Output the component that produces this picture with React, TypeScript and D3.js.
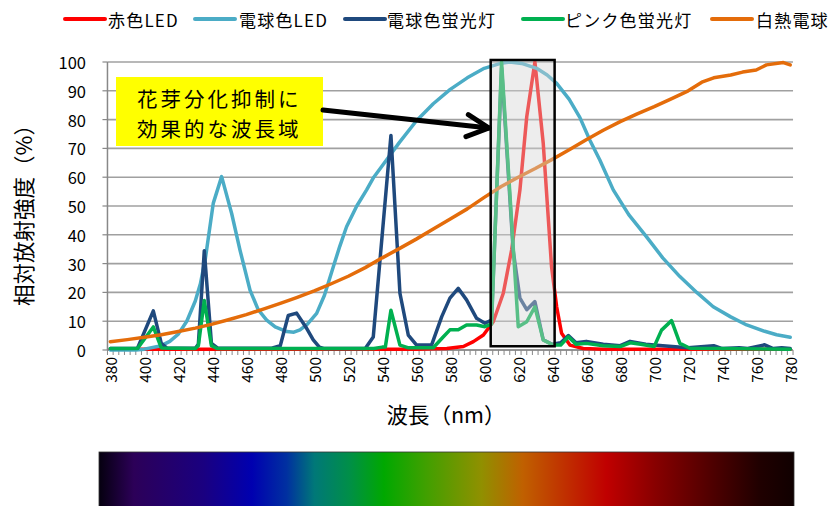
import React from "react";
import * as d3 from "d3";

// ---- data (wavelength nm, relative intensity %) ----
const redLED: [number, number][] = [
  [380, 0.3], [540, 0.3], [560, 0.3], [570, 0.4], [578, 0.5], [587.7, 1.2], [593.6, 2.9], [599.5, 5.2],
  [605.3, 9.8], [611.2, 19.7], [616.1, 34.7], [621, 55.6], [625, 81], [629.8, 100], [634.7, 71.8],
  [639.6, 28.9], [642.6, 15], [645.5, 5.8], [650.4, 1.7], [658.2, 0.5], [670, 0.3], [780, 0.3],
];
const bulbLED: [number, number][] = [
  [380, 0], [395, 0], [400, 0.3], [410, 1.5], [415, 3], [420, 5.5], [425, 10], [430, 17], [433, 23],
  [436, 32], [440.6, 51], [445.5, 60.2], [451.4, 47.4], [456.3, 34.7], [462.2, 20.8], [467, 14],
  [472, 10.4], [477, 8], [483.8, 6.4], [488, 6.2], [491.6, 7], [496, 9], [501.4, 12.7], [506, 19],
  [511.2, 28.9], [515, 36], [519, 42.8], [525, 50], [530.8, 55.6], [535, 60], [540, 64], [550, 72],
  [560, 79.5], [570, 85.5], [580, 90.5], [590, 94.5], [600, 97.8], [610, 99.6], [615, 100], [622, 99.5],
  [630.8, 97.8], [637, 95.5], [642.6, 92.6], [650, 87], [656.3, 80.7], [662, 73], [668, 66],
  [675.9, 55.6], [685, 47], [695.5, 39.3], [705, 32], [715.1, 25.5], [725, 20], [734.7, 15],
  [745, 11.5], [754.4, 8.7], [765, 6.5], [772, 5.3], [780, 4.4],
];
const bulbFluor: [number, number][] = [
  [380, 0.5], [396, 0.6], [405.3, 13.6], [410, 2.3], [413.5, 0.6], [430, 0.6], [431.8, 2],
  [435.3, 34.5], [439.5, 2.3], [443, 0.7], [475, 0.6], [480, 1.5], [484.7, 12], [489.6, 12.8],
  [495, 8], [499.4, 3.5], [503, 1], [506, 0.5], [530, 0.5], [534.7, 4.5], [545.1, 74.5],
  [550.4, 19.7], [555.3, 5.2], [560.2, 1.7], [569, 1.7], [575, 11.6], [579.8, 18], [584.7, 21.4],
  [589.6, 17.4], [595.5, 11], [600.4, 9.3], [604.3, 10.4], [610.2, 98], [617, 34.7], [621, 18],
  [625, 14], [629.8, 16.8], [634.7, 3.5], [640, 2], [645, 2.5], [649.5, 5], [654, 2.5], [660, 3],
  [670, 2], [680, 1.5], [685.8, 3], [695, 2], [705, 1.5], [720, 0.8], [735, 1.5], [740, 0.5],
  [750, 0.8], [755, 0.5], [765, 1.8], [770, 0.5], [775, 0.8], [780, 0.5],
];
const pinkFluor: [number, number][] = [
  [380, 0.5], [396, 0.5], [405.3, 8], [410, 0.7], [430, 0.5], [431.8, 1.5], [435.3, 17.2],
  [439.5, 1.5], [443, 0.5], [535, 0.5], [540, 1], [541.8, 1], [545.1, 13.8], [550.4, 1.7],
  [555, 0.8], [570, 0.8], [575, 4], [579.8, 7], [584.7, 7], [589.6, 8.7], [595.5, 8.7],
  [600.4, 8.1], [604.3, 9], [610.2, 100], [620, 8.1], [625, 9.8], [629.8, 15], [634.7, 3.5],
  [640.5, 1.7], [645, 1.7], [649.5, 4.6], [654, 2], [660, 2.3], [670, 1.5], [680, 1.2],
  [685.8, 2.5], [692, 2], [700, 1.2], [704.3, 6.9], [710.2, 10.2], [715.1, 2.3], [721, 0.6],
  [780, 0.3],
];
const incandescent: [number, number][] = [
  [380, 2.9], [390, 3.6], [400, 4.4], [410, 5.3], [420, 6.4], [430, 7.6], [440, 9], [450, 10.6],
  [460, 12.3], [470, 14.2], [480, 16.2], [490, 18.3], [500, 20.5], [510, 23], [520, 25.6],
  [530, 28.6], [540, 32], [550, 35.2], [560, 38.5], [570, 42], [580, 45.5], [590, 49], [600, 53],
  [610, 56.8], [620, 60], [630, 63], [640, 66.2], [650, 69.5], [660, 73], [670, 76.3],
  [680, 79.3], [690, 82], [700, 84.5], [710, 87.2], [720, 90], [728, 93], [735, 94.5], [745, 95.5],
  [752, 96.5], [760, 97.2], [766, 99], [776, 99.8], [780, 99],
];

const seriesNames = ["赤色LED", "電球色LED", "電球色蛍光灯", "ピンク色蛍光灯", "白熱電球"];
const seriesColors = ["#FF0000", "#4BACC6", "#1F497D", "#00B050", "#E46C0A"];
const seriesData = [redLED, bulbLED, bulbFluor, pinkFluor, incandescent];

const yTicks = [0, 10, 20, 30, 40, 50, 60, 70, 80, 90, 100];
const xTickLabels = d3.range(380, 781, 20);
const highlightRange = [603.8, 641.4];
const annotationLines = ["花芽分化抑制に", "効果的な波長域"];

const spectrumStops: [number, string][] = [
  [0, "#05000f"], [0.05, "#2c0058"], [0.15, "#1a0080"], [0.22, "#0000b0"], [0.27, "#0030a0"],
  [0.31, "#007878"], [0.36, "#008f48"], [0.41, "#00a800"], [0.47, "#40a000"], [0.55, "#909000"],
  [0.61, "#c06000"], [0.67, "#c03000"], [0.73, "#c00000"], [0.8, "#880000"], [0.88, "#500000"],
  [0.95, "#200000"], [1, "#100000"],
];

const FONT = "'Noto Sans CJK JP', 'Noto Sans', sans-serif";

export default function App() {
  const x = d3.scaleLinear().domain([380, 780]).range([110.3, 790.2]);
  const y = d3.scaleLinear().domain([0, 100]).range([350, 62]);
  const line = d3
    .line<[number, number]>()
    .x((d) => x(d[0]))
    .y((d) => y(d[1]));
  const step = 10 / 3;
  const tickBounds = d3.range(122).map((k) => 380 - step / 2 + k * step);
  const x0 = x(tickBounds[0]);
  const x1 = x(tickBounds[tickBounds.length - 1]);

  const legendPos = [
    [65, 108],
    [195, 239],
    [345, 387],
    [523, 565],
    [712, 756],
  ];

  const tip: [number, number] = [489, 128];
  const start: [number, number] = [323, 110];
  const dx = tip[0] - start[0];
  const dy = tip[1] - start[1];
  const len = Math.hypot(dx, dy);
  const ux = dx / len, uy = dy / len;
  const px = -uy, py = ux;
  const hl = 22, hw = 11;
  const bx = tip[0] - hl * ux, by = tip[1] - hl * uy;

  return (
    <svg
      width={835}
      height={506}
      style={{ position: "absolute", left: 0, top: 0, background: "#fff" }}
      fontFamily={FONT}
    >
      <defs>
        <linearGradient id="spec" x1="0" x2="1" y1="0" y2="0">
          {spectrumStops.map(([o, c], i) => (
            <stop key={i} offset={o} stopColor={c} />
          ))}
        </linearGradient>
      </defs>

      {/* gridlines */}
      {yTicks.map((t) => (
        <line key={t} x1={x0} x2={x1} y1={y(t)} y2={y(t)} stroke="#A0A0A0" strokeWidth={1.6} />
      ))}
      {/* y axis */}
      <line x1={x0} x2={x0} y1={y(100)} y2={y(0)} stroke="#888" strokeWidth={1.5} />
      {yTicks.map((t) => (
        <line key={"yt" + t} x1={x0 - 5} x2={x0} y1={y(t)} y2={y(t)} stroke="#888" strokeWidth={1.2} />
      ))}
      {yTicks.map((t) => (
        <text key={"yl" + t} x={86} y={y(t)} textAnchor="end" dominantBaseline="central" fontSize={16.5} fill="#000">
          {t}
        </text>
      ))}
      {/* x axis */}
      <line x1={x0} x2={x1} y1={y(0)} y2={y(0)} stroke="#888" strokeWidth={1.5} />
      {tickBounds.map((w, i) => (
        <line key={"xt" + i} x1={x(w)} x2={x(w)} y1={y(0)} y2={y(0) + 5} stroke="#888" strokeWidth={1} />
      ))}
      {xTickLabels.map((w) => (
        <text
          key={"xl" + w}
          transform={`translate(${x(w)},${357}) rotate(-90)`}
          textAnchor="end"
          dominantBaseline="central"
          fontSize={15.5}
          fill="#000"
        >
          {w}
        </text>
      ))}

      {/* series */}
      {seriesData.map((d, i) => (
        <path
          key={"s" + i}
          d={line(d) || ""}
          fill="none"
          stroke={seriesColors[i]}
          strokeWidth={3.5}
          strokeLinejoin="round"
          strokeLinecap="round"
        />
      ))}

      {/* highlight box */}
      <rect
        x={x(highlightRange[0])}
        y={y(100.7)}
        width={x(highlightRange[1]) - x(highlightRange[0])}
        height={y(1.3) - y(100.7)}
        fill="#d4d4d4"
        fillOpacity={0.42}
        stroke="#000"
        strokeWidth={2.5}
      />

      {/* annotation */}
      <rect x={116} y={77} width={207} height={69} fill="#FFFF00" />
      {annotationLines.map((t, i) => (
        <text
          key={"a" + i}
          x={137}
          y={97.5 + i * 30}
          dominantBaseline="central"
          fontSize={20.5}
          letterSpacing={3}
          fill="#000"
        >
          {t}
        </text>
      ))}
      <line x1={start[0]} y1={start[1]} x2={tip[0]} y2={tip[1]} stroke="#000" strokeWidth={5} strokeLinecap="round" />
      <path
        d={`M${bx + hw * px},${by + hw * py} L${tip[0]},${tip[1]} L${bx - hw * px},${by - hw * py}`}
        fill="none"
        stroke="#000"
        strokeWidth={5}
        strokeLinecap="round"
        strokeLinejoin="round"
      />

      {/* legend */}
      {seriesNames.map((n, i) => (
        <g key={"lg" + i}>
          <line
            x1={legendPos[i][0]}
            x2={legendPos[i][0] + 40}
            y1={19}
            y2={19}
            stroke={seriesColors[i]}
            strokeWidth={4}
            strokeLinecap="round"
          />
          <text x={legendPos[i][1]} y={19} dominantBaseline="central" fontSize={17} fill="#000" letterSpacing={1.2}>
            {n}
          </text>
        </g>
      ))}

      {/* axis titles */}
      <text
        transform="translate(22,210) rotate(-90)"
        textAnchor="middle"
        dominantBaseline="central"
        fontSize={21.5}
        fill="#000"
      >
        相対放射強度（%）
      </text>
      <text x={446} y={413} textAnchor="middle" dominantBaseline="central" fontSize={21.5} fill="#000">
        波長（nm）
      </text>

      {/* spectrum bar */}
      <rect x={99} y={452} width={695} height={60} fill="url(#spec)" stroke="#333" strokeWidth={0.8} />
    </svg>
  );
}
